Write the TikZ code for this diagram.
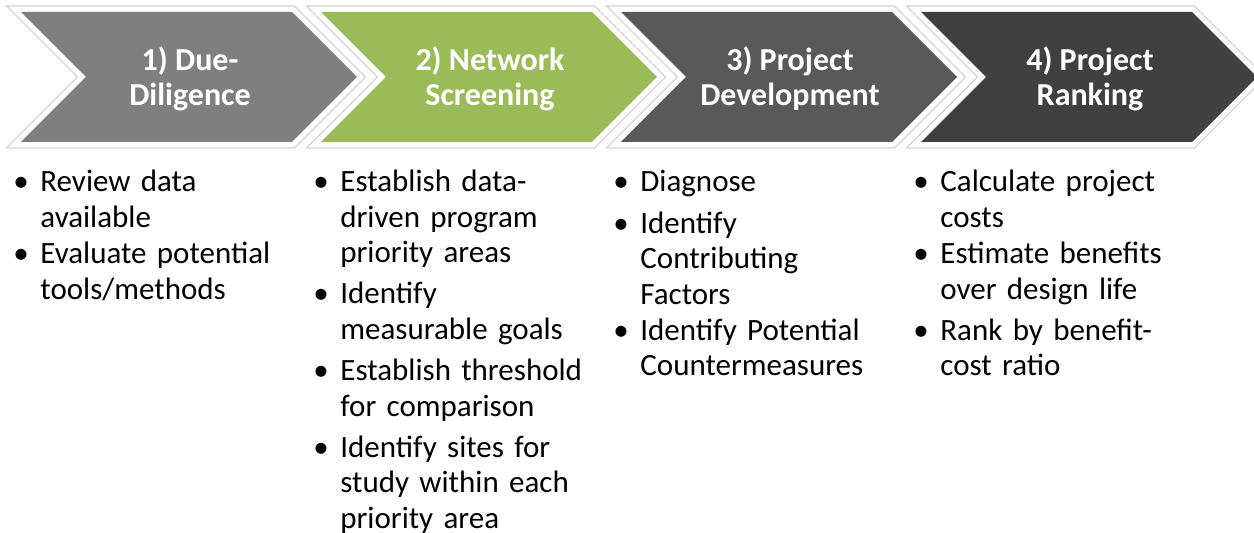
\documentclass[tikz,border=0pt]{standalone}
\usepackage{fontspec}
\setmainfont{Carlito}
\usepackage{xcolor,tikz}
\usetikzlibrary{positioning}
\definecolor{stepone}{HTML}{7F7F7F}
\definecolor{steptwo}{HTML}{9BBB59}
\definecolor{stepthree}{HTML}{595959}
\definecolor{stepfour}{HTML}{404040}
\definecolor{rim}{HTML}{D4D4D4}
\newcommand{\bul}[1]{\noindent\makebox[13.5pt][l]{\textbullet}\parbox[t]{135pt}{\raggedright #1}\par\prevdepth=3pt\vskip 3.25pt\relax}

\begin{document}
\begin{tikzpicture}[x=0.5pt,y=-0.5pt,
  rimline/.style={draw=rim,line width=0.6pt},
  steplabel/.style={text=white,font=\fontsize{16}{17.5}\selectfont\bfseries,align=center,inner sep=0pt},
  steplist/.style={text width=150pt,anchor=north west,inner sep=0pt,font=\fontsize{15.5}{17.75}\selectfont}]
\useasboundingbox (0,0) rectangle (1254,533);
% rims round the four steps
\draw[rimline] (6.5,6)--(294.5,6)--(365.5,77)--(294.5,148)--(6.5,148)--(77.5,77)--cycle;
\draw[rimline] (306.5,6)--(594.5,6)--(665.5,77)--(594.5,148)--(306.5,148)--(377.5,77)--cycle;
\draw[rimline] (606.5,6)--(894.5,6)--(965.5,77)--(894.5,148)--(606.5,148)--(677.5,77)--cycle;
\draw[rimline] (906.5,6)--(1194.5,6)--(1265.5,77)--(1194.5,148)--(906.5,148)--(977.5,77)--cycle;
% the steps
\fill[stepone] (21,12)--(292,12)--(357,77)--(292,142)--(21,142)--(86,77)--cycle;
\fill[steptwo] (321,12)--(592,12)--(657,77)--(592,142)--(321,142)--(386,77)--cycle;
\fill[stepthree] (621,12)--(892,12)--(957,77)--(892,142)--(621,142)--(686,77)--cycle;
\fill[stepfour] (921,12)--(1192,12)--(1257,77)--(1192,142)--(921,142)--(986,77)--cycle;
\node[steplabel] (s1) at (190,79) {1) Due-\\Diligence};
\node[steplabel] (s2) at (490,79) {2) Network\\Screening};
\node[steplabel] (s3) at (790,79) {3) Project\\Development};
\node[steplabel] (s4) at (1090,79) {4) Project\\Ranking};
% what each step does
\node[steplist] (l1) at (13,170) {\bul{Review data\\available}\bul{Evaluate potential\\tools/methods}};
\node[steplist] (l2) at (313,170) {\bul{Establish data-\\driven program\\priority areas}\bul{Identify\\measurable goals}\bul{Establish threshold\\for comparison}\bul{Identify sites for\\study within each\\priority area}};
\node[steplist] (l3) at (613,170) {\bul{Diagnose}\bul{Identify\\Contributing\\Factors}\bul{Identify Potential\\Countermeasures}};
\node[steplist] (l4) at (913,170) {\bul{Calculate project\\costs}\bul{Estimate benefits\\over design life}\bul{Rank by benefit-\\cost ratio}};
\end{tikzpicture}
\end{document}
